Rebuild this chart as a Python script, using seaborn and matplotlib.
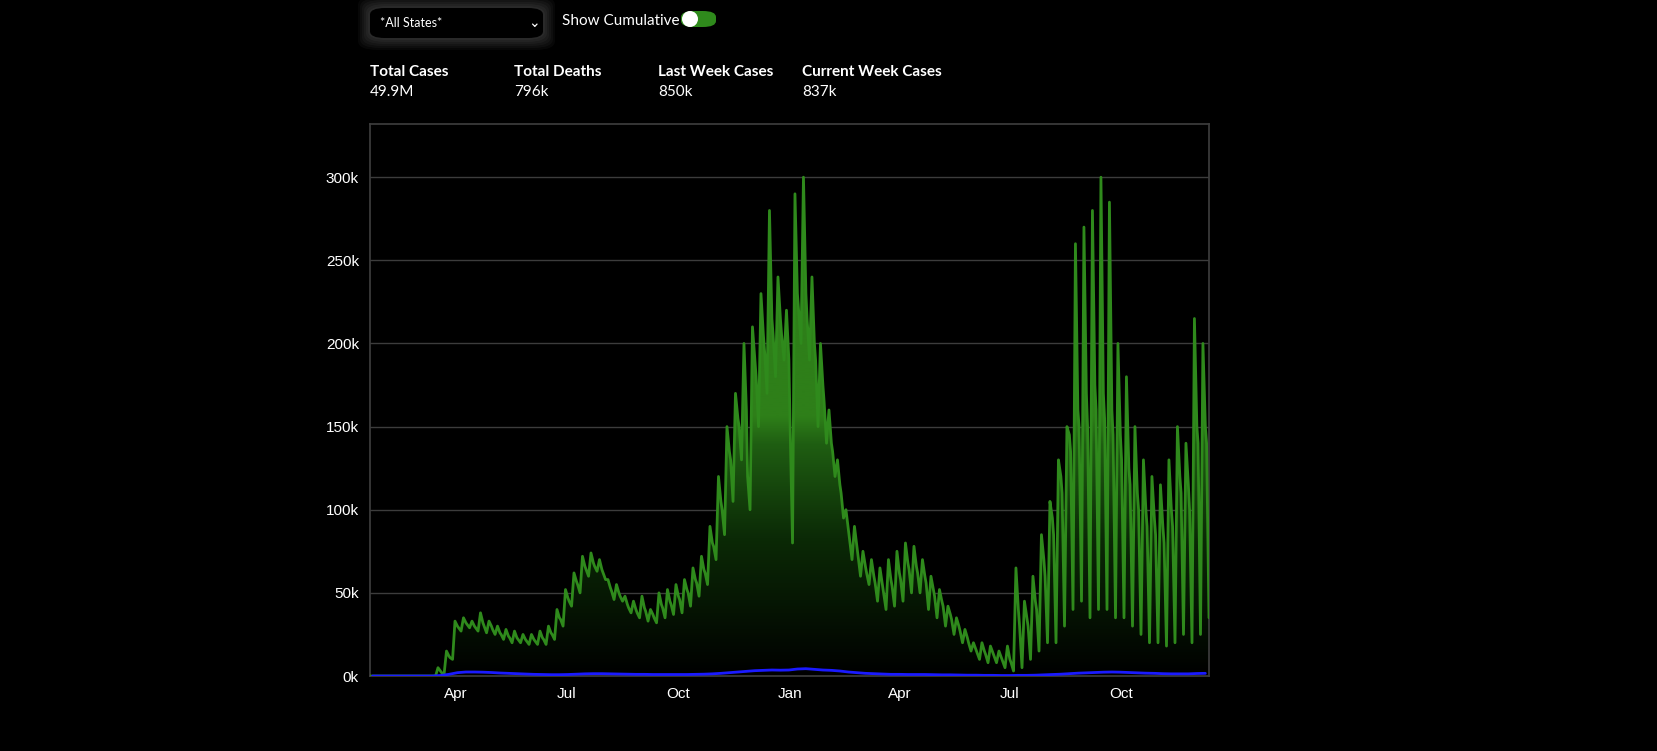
import numpy as np
import pandas as pd
import matplotlib
matplotlib.use("Agg")
import matplotlib.pyplot as plt
import matplotlib.dates as mdates
from matplotlib.patches import FancyBboxPatch
import seaborn as sns

# Weekly readings (in thousands), weeks starting Mon 2020-01-20
week_high = [0,0,0,0,0,0,0,0, 5,15,33,35,33,38,33,30,28,27,25,25,27,30,40,52,62,72,74,70,58,55,
             48,45,48,40,50,52,55,58,65,72,90,120,150,170,200,210,230,280,240,220,
             290,300,240,200,160,130,100,90,75,70,65,70,75,80,78,70,60,52,42,35,
             28,20,20,18,15,18,65,45,60,85,105,130,150,260,270,280,300,285,200,180,
             150,130,120,115,130,150,140,215,200]
week_mid = [0,0,0,0,0,0,0,0, 3,12,30,32,30,32,30,26,24,23,22,22,23,26,35,47,57,66,68,64,53,50,
            43,40,41,37,43,45,48,52,58,64,80,105,135,155,160,190,205,215,215,190,
            230,230,200,175,140,115,88,78,66,60,55,58,62,68,66,60,52,45,37,30,
            23,16,15,14,11,10,40,35,45,70,95,120,145,160,170,175,170,160,145,125,
            110,100,95,90,100,120,115,150,150]
week_mid2 = [0,0,0,0,0,0,0,0, 2,11,29,31,29,30,28,25,23,22,21,21,22,25,34,45,55,64,66,62,51,48,
             41,38,39,35,41,43,46,50,56,62,78,100,130,150,120,180,195,205,205,150,
             220,215,190,165,135,110,82,72,62,56,50,54,58,64,62,56,48,42,34,27,
             20,14,13,12,9,8,30,30,40,60,85,110,135,150,150,160,155,145,130,115,
             100,90,85,80,90,110,100,140,140]
week_low = [0,0,0,0,0,0,0,0, 1,10,27,29,27,26,25,22,20,20,19,19,19,22,30,42,50,60,63,58,46,45,
            38,35,33,32,35,37,38,42,48,55,70,85,105,130,100,150,170,180,190,80,
            200,190,150,140,120,95,70,60,55,45,40,42,45,50,50,40,35,30,25,20,
            15,10,8,8,5,3,5,10,15,20,20,30,40,45,35,40,40,35,35,30,
            25,20,20,18,20,25,20,25,35]
week_deaths = [0,0,0,0,0,0,0,0, 0.3,1.0,2.0,2.4,2.4,2.3,2.1,1.8,1.6,1.4,1.2,1.0,0.9,0.8,0.8,0.9,1.1,1.3,1.4,1.4,1.3,1.2,
               1.1,1.0,1.0,0.9,0.9,0.9,0.9,0.9,1.0,1.1,1.3,1.6,2.0,2.4,2.8,3.2,3.4,3.6,3.5,3.6,
               4.2,4.4,4.0,3.6,3.4,3.0,2.4,2.0,1.6,1.4,1.2,1.0,1.0,0.9,0.9,0.9,0.8,0.7,0.7,0.6,
               0.5,0.5,0.4,0.4,0.3,0.3,0.4,0.4,0.5,0.7,0.9,1.1,1.4,1.7,1.9,2.1,2.3,2.4,2.3,2.1,
               1.9,1.7,1.6,1.4,1.3,1.3,1.3,1.5,1.6]
y_ticks = [0, 50, 100, 150, 200, 250, 300]
stat_labels = ["Total Cases", "Total Deaths", "Last Week Cases", "Current Week Cases"]
stat_values = ["49.9M", "796k", "850k", "837k"]

start = pd.Timestamp("2020-01-20")
dates, cases = [], []
for i in range(len(week_high)):
    w = start + pd.Timedelta(days=7 * i)
    for off, arr in ((1, week_high), (3, week_mid), (4, week_mid2), (6, week_low)):
        dates.append(w + pd.Timedelta(days=off))
        cases.append(arr[i] * 1000)
df = pd.DataFrame({"date": dates, "cases": cases})
ddf = pd.DataFrame({"date": [start + pd.Timedelta(days=7 * i + 3) for i in range(len(week_deaths))],
                    "deaths": [v * 1000 for v in week_deaths]})

sns.set_theme(style="dark")
plt.rcParams["font.family"] = ["Liberation Sans", "DejaVu Sans"]
fig = plt.figure(figsize=(16.58, 7.51), dpi=100, facecolor="black")
ax = fig.add_axes([370 / 1658, 1 - 676 / 751, 839 / 1658, 552 / 751])
ax.set_facecolor("black")

x0 = pd.Timestamp("2020-01-21"); x1 = pd.Timestamp("2021-12-12")
ymax = 332000
ax.set_xlim(x0, x1); ax.set_ylim(0, ymax)

green = "#2f8a1c"
poly = ax.fill_between(df["date"], df["cases"], 0, color="none", lw=0)
grad = np.linspace(0, 1, 256).reshape(-1, 1)
cmap = matplotlib.colors.LinearSegmentedColormap.from_list(
    "g", [(0, "#000000"), (0.25, "#0b2a06"), (0.42, "#1f5e12"), (0.47, "#2e7f19"), (1, "#2e7f19")])
im = ax.imshow(grad, aspect="auto", cmap=cmap, origin="lower",
               extent=[mdates.date2num(x0), mdates.date2num(x1), 0, ymax], zorder=1)
path = poly.get_paths()[0]
im.set_clip_path(path, transform=ax.transData)

sns.lineplot(data=df, x="date", y="cases", ax=ax, color=green, lw=2, zorder=3)
sns.lineplot(data=ddf, x="date", y="deaths", ax=ax, color="#1a1aff", lw=2, zorder=4)

ax.set_yticks([v * 1000 for v in y_ticks])
ax.set_yticklabels([f"{v}k" for v in y_ticks])
ax.grid(axis="y", color="#3c3c3c", lw=1)
ax.grid(axis="x", visible=False)
ax.xaxis.set_major_locator(mdates.MonthLocator(bymonth=[1, 4, 7, 10]))
ax.xaxis.set_major_formatter(mdates.DateFormatter("%b"))
ax.tick_params(colors="white", labelsize=11, length=0, pad=8)
ax.set_xlabel(""); ax.set_ylabel("")
for s in ax.spines.values():
    s.set_color("#3c3c3c"); s.set_visible(True)

# header widgets
W, H = 1658, 751
def fx(px): return px / W
def fy(py): return 1 - py / H
for k in range(6, 0, -1):
    fig.patches.append(FancyBboxPatch((fx(370 - k * 2), fy(38 + k * 2)), fx(173 + k * 4), (30 + k * 4) / H,
                                      boxstyle="round,pad=0,rounding_size=0.012", transform=fig.transFigure,
                                      fc=(1, 1, 1, 0.03), ec="none"))
fig.patches.append(FancyBboxPatch((fx(370), fy(38)), fx(173), 30 / H,
                                  boxstyle="round,pad=0,rounding_size=0.009", transform=fig.transFigure,
                                  fc="black", ec="none"))
fig.text(fx(380), fy(23), "*All States*", color="white", fontsize=9, va="center", family=["Lato", "DejaVu Sans"])
fig.text(fx(528), fy(23), "⌄", color="white", fontsize=10, va="center")
fig.text(fx(562), fy(21), "Show Cumulative", color="white", fontsize=11, va="center", family=["Lato", "DejaVu Sans"])
fig.patches.append(FancyBboxPatch((fx(681), fy(27)), fx(35), 16 / H,
                                  boxstyle="round,pad=0,rounding_size=0.008", transform=fig.transFigure,
                                  fc="#2f8a1c", ec="none"))
fig.patches.append(matplotlib.patches.Ellipse((fx(690), fy(19)), fx(16), 16 / H, transform=fig.transFigure,
                                              fc="white", ec="none"))
for i, (lab, val) in enumerate(zip(stat_labels, stat_values)):
    xp = fx(370 + 144 * i)
    fig.text(xp, fy(72), lab, color="white", fontsize=11, fontweight="bold", va="center", family=["Lato", "DejaVu Sans"])
    fig.text(xp, fy(92), val, color="white", fontsize=11, va="center", family=["Lato", "DejaVu Sans"])

fig.savefig("out.png", dpi=100, facecolor="black")
